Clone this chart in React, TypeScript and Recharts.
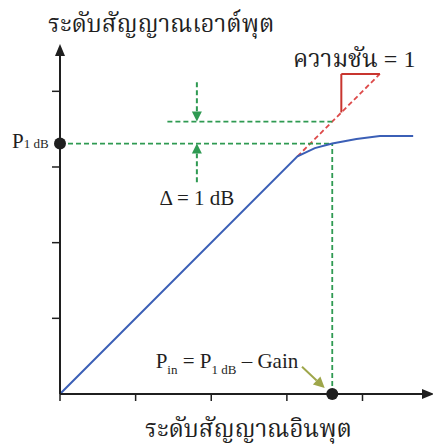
import React from "react";
import {
  ComposedChart,
  Line,
  XAxis,
  YAxis,
  ReferenceLine,
  ReferenceDot,
} from "recharts";

// Amplifier transfer curve: output level vs input level (arbitrary units)
const inputLevel = [0, 3.14, 3.37, 3.6, 3.92, 4.23, 4.67];
const outputLevel = [0, 3.14, 3.25, 3.31, 3.37, 3.41, 3.41];

const xTicks = [0, 1, 2, 3, 4];
const yTicks = [1, 2, 3, 4];

// 1 dB compression point
const pIn1dB = 3.6;
const pOut1dB = 3.31;
const linearAt1dB = 3.6;

// slope = 1 reference line and its triangle
const slopeStart = 3.14;
const slopeEnd = 4.23;
const slopeCorner = 3.72;

// delta arrows and the label arrow
const deltaX = 1.81;
const deltaTopFrom = 4.12;
const deltaBottomFrom = 2.8;
const deltaLineStart = 1.42;
const pinArrowFrom = { x: 3.2, y: 0.36 };

const X_MAX = 4.8;
const Y_MAX = 4.48;

const curve = inputLevel.map((x, i) => ({ x, y: outputLevel[i] }));

const GREEN = "#2f9a52";
const RED = "#dd4a4a";
const RED_SOLID = "#c8352f";
const BLUE = "#3b5fb6";
const INK = "#1f1f1f";
const OLIVE = "#9ea64a";
const FONT = "'Liberation Serif', 'Noto Serif Thai', 'Noto Sans Thai', serif";

function arrowShape(color: string, dashed: boolean, head = 10) {
  return (props: any) => {
    const { x1, y1, x2, y2 } = props;
    const dx = x2 - x1;
    const dy = y2 - y1;
    const len = Math.sqrt(dx * dx + dy * dy) || 1;
    const ux = dx / len;
    const uy = dy / len;
    const bx = x2 - ux * head;
    const by = y2 - uy * head;
    const hw = head * 0.5;
    return (
      <g>
        <line
          x1={x1}
          y1={y1}
          x2={bx}
          y2={by}
          stroke={color}
          strokeWidth={2}
          strokeDasharray={dashed ? "5 3" : undefined}
        />
        <polygon
          points={`${x2},${y2} ${bx - uy * hw},${by + ux * hw} ${bx + uy * hw},${by - ux * hw}`}
          fill={color}
        />
      </g>
    );
  };
}

const upHead = (props: any) => {
  const { cx, cy } = props;
  return <polygon points={`${cx},${cy - 11} ${cx - 5},${cy + 1} ${cx + 5},${cy + 1}`} fill={INK} />;
};

const rightHead = (props: any) => {
  const { cx, cy } = props;
  return <polygon points={`${cx + 11},${cy} ${cx - 1},${cy - 5} ${cx - 1},${cy + 5}`} fill={INK} />;
};

const p1dbLabel = (props: any) => {
  const { cx, cy } = props;
  return (
    <text x={cx - 48} y={cy + 4} fontFamily={FONT} fontSize={21} fill={INK}>
      P<tspan fontSize={13}>1 dB</tspan>
    </text>
  );
};

const deltaLabel = (props: any) => {
  const { cx, cy } = props;
  return (
    <text x={cx} y={cy} textAnchor="middle" fontFamily={FONT} fontSize={21} fill={INK}>
      Δ = 1 dB
    </text>
  );
};

const pinLabel = (props: any) => {
  const { cx, cy } = props;
  return (
    <text x={cx} y={cy} textAnchor="end" fontFamily={FONT} fontSize={21} fill={INK}>
      P<tspan fontSize={13} dy={6}>in</tspan>
      <tspan dy={-6}> = P</tspan>
      <tspan fontSize={13} dy={6}>1 dB</tspan>
      <tspan dy={-6}> – Gain</tspan>
    </text>
  );
};

export default function App() {
  return (
    <div style={{ position: "absolute", left: 0, top: 0, background: "#fff" }}>
      <ComposedChart
        width={433}
        height={448}
        data={curve}
        margin={{ top: 55, right: 10, bottom: 24, left: 0 }}
      >
        <XAxis
          type="number"
          dataKey="x"
          domain={[0, X_MAX]}
          ticks={xTicks}
          height={30}
          tickSize={7}
          tickFormatter={() => ""}
          axisLine={{ stroke: INK, strokeWidth: 2 }}
          tickLine={{ stroke: INK, strokeWidth: 1.5 }}
          allowDataOverflow
        />
        <YAxis
          type="number"
          dataKey="y"
          domain={[0, Y_MAX]}
          ticks={yTicks}
          width={60}
          tickSize={8}
          tickFormatter={() => ""}
          axisLine={{ stroke: INK, strokeWidth: 2 }}
          tickLine={{ stroke: INK, strokeWidth: 1.5 }}
          allowDataOverflow
        />

        {/* slope = 1 extrapolation and its triangle */}
        <ReferenceLine
          segment={[
            { x: slopeStart, y: slopeStart },
            { x: slopeEnd, y: slopeEnd },
          ]}
          stroke={RED}
          strokeWidth={1.8}
          strokeDasharray="5 3"
          ifOverflow="visible"
        />
        <ReferenceLine
          segment={[
            { x: slopeCorner, y: slopeCorner },
            { x: slopeCorner, y: slopeEnd },
          ]}
          stroke={RED_SOLID}
          strokeWidth={2}
          ifOverflow="visible"
        />
        <ReferenceLine
          segment={[
            { x: slopeCorner, y: slopeEnd },
            { x: slopeEnd, y: slopeEnd },
          ]}
          stroke={RED_SOLID}
          strokeWidth={2}
          ifOverflow="visible"
        />

        {/* 1 dB compression guides */}
        <ReferenceLine
          segment={[
            { x: 0, y: pOut1dB },
            { x: pIn1dB, y: pOut1dB },
          ]}
          stroke={GREEN}
          strokeWidth={1.8}
          strokeDasharray="5 3"
        />
        <ReferenceLine
          segment={[
            { x: deltaLineStart, y: linearAt1dB },
            { x: pIn1dB, y: linearAt1dB },
          ]}
          stroke={GREEN}
          strokeWidth={1.8}
          strokeDasharray="5 3"
        />
        <ReferenceLine
          segment={[
            { x: pIn1dB, y: 0 },
            { x: pIn1dB, y: pOut1dB },
          ]}
          stroke={GREEN}
          strokeWidth={1.8}
          strokeDasharray="5 3"
        />
        <ReferenceLine
          segment={[
            { x: deltaX, y: deltaTopFrom },
            { x: deltaX, y: linearAt1dB },
          ]}
          shape={arrowShape(GREEN, true)}
        />
        <ReferenceLine
          segment={[
            { x: deltaX, y: deltaBottomFrom },
            { x: deltaX, y: pOut1dB },
          ]}
          shape={arrowShape(GREEN, true)}
        />
        <ReferenceLine
          segment={[pinArrowFrom, { x: pIn1dB - 0.1, y: 0.08 }]}
          shape={arrowShape(OLIVE, false, 11)}
        />

        <Line
          type="linear"
          dataKey="y"
          stroke={BLUE}
          strokeWidth={2}
          dot={false}
          isAnimationActive={false}
        />

        <ReferenceDot x={0} y={pOut1dB} r={6} fill={INK} stroke="none" />
        <ReferenceDot x={pIn1dB} y={0} r={6} fill={INK} stroke="none" />
        <ReferenceDot x={0} y={Y_MAX} shape={upHead} />
        <ReferenceDot x={X_MAX} y={0} shape={rightHead} />

        <ReferenceDot x={0} y={pOut1dB} shape={p1dbLabel} />
        <ReferenceDot x={deltaX} y={2.5} shape={deltaLabel} />
        <ReferenceDot x={3.15} y={0.34} shape={pinLabel} />

        <text x={48} y={32} fontFamily={FONT} fontSize={24} fill={INK}>
          ระดับสัญญาณเอาต์พุต
        </text>
        <text x={293} y={67} fontFamily={FONT} fontSize={24} fill={INK}>
          ความชัน = 1
        </text>
        <text x={145} y={437} fontFamily={FONT} fontSize={24} fill={INK}>
          ระดับสัญญาณอินพุต
        </text>
      </ComposedChart>
    </div>
  );
}
